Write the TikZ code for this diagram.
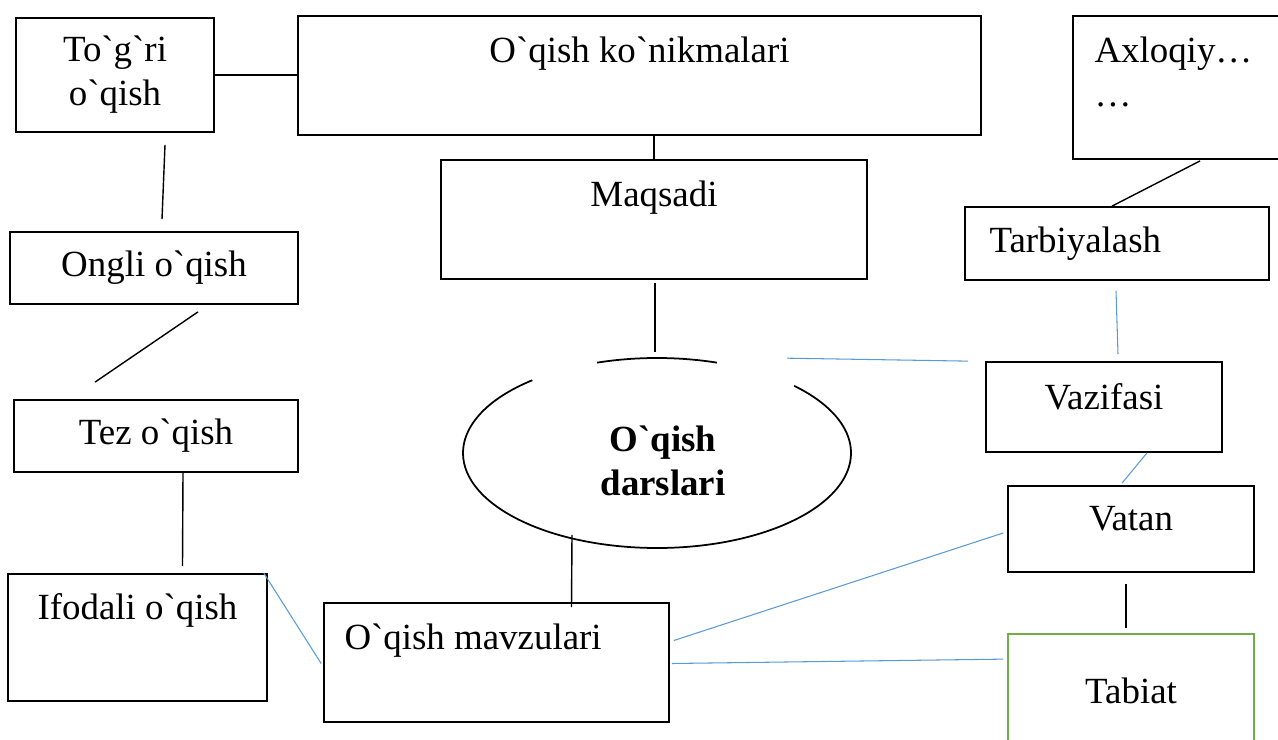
\documentclass[tikz,border=0pt]{standalone}
\usepackage{fontspec}
\setmainfont{Liberation Serif}[Ligatures=TeXOff]
\usepackage{tikz}
\usetikzlibrary{shapes.geometric, positioning}
\definecolor{wordblue}{RGB}{91, 155, 213}
\definecolor{wordgreen}{RGB}{112, 173, 71}

\begin{document}
\begin{tikzpicture}[
    x=0.02cm, y=-0.02cm,
    font=\fontsize{21}{25}\selectfont,
    box/.style={draw, rectangle, line width=1pt, inner sep=0pt, align=center},
    lbl/.style={inner sep=0pt},
    blk/.style={line width=0.8pt},
    blu/.style={draw=wordblue, line width=0.6pt}
]
    \useasboundingbox[fill=white] (0,0) rectangle (1278,740);

    % Boxes
    \node[box, minimum width=3.96cm, minimum height=2.28cm] (togri) at (115,75) {To`g`ri\\o`qish};
    \node[box, minimum width=13.66cm, minimum height=2.38cm,
          label={[lbl, anchor=north, yshift=-0.42cm]north:O`qish ko`nikmalari}] (konik) at (639.5,75.5) {};
    \node[box, minimum width=4.34cm, minimum height=2.86cm,
          label={[lbl, anchor=north west, xshift=0.44cm, yshift=-0.42cm, align=left]north west:Axloqiy…\\…}] (axloq) at (1181.5,87.5) {};
    \node[box, minimum width=8.52cm, minimum height=2.38cm,
          label={[lbl, anchor=north, yshift=-0.42cm]north:Maqsadi}] (maqsad) at (654,219.5) {};
    \node[box, minimum width=6.08cm, minimum height=1.46cm,
          label={[lbl, anchor=west, xshift=0.5cm]west:Tarbiyalash}] (tarb) at (1117,243.5) {};
    \node[box, minimum width=5.76cm, minimum height=1.44cm] (ongli) at (154,268) {Ongli o`qish};
    \node[box, minimum width=4.72cm, minimum height=1.8cm,
          label={[lbl, anchor=north, yshift=-0.44cm]north:Vazifasi}] (vazif) at (1104,407) {};
    \node[box, minimum width=5.68cm, minimum height=1.44cm] (tez) at (156,436) {Tez o`qish};
    \node[box, minimum width=4.92cm, minimum height=1.72cm,
          label={[lbl, anchor=north, yshift=-0.42cm]north:Vatan}] (vatan) at (1131,529) {};
    \node[box, minimum width=5.18cm, minimum height=2.54cm,
          label={[lbl, anchor=north, yshift=-0.4cm]north:Ifodali o`qish}] (ifod) at (137.5,637.5) {};
    \node[box, minimum width=6.9cm, minimum height=2.38cm,
          label={[lbl, anchor=north west, xshift=0.42cm, yshift=-0.42cm]north west:O`qish mavzulari}] (mavz) at (496.5,662.5) {};
    \node[box, draw=wordgreen, minimum width=4.92cm, minimum height=2.36cm,
          label={[lbl, anchor=north, yshift=-0.88cm]north:Tabiat}] (tabiat) at (1131,693) {};

    % Ellipse (drawn in pieces, with its gaps)
    \node[ellipse, inner sep=0pt, minimum width=7.76cm, minimum height=3.78cm,
          label={[lbl, align=center, font=\fontsize{21}{25}\selectfont\bfseries, shift={(6,8)}]center:O`qish\\darslari}] (dars) at (657,453) {};
    \draw[line width=1pt] ([shift={(-130:194 and 95)}]dars.center) arc[start angle=-130, end angle=-405, x radius=194, y radius=95];
    \draw[line width=1pt] ([shift={(-72:194 and 95)}]dars.center) arc[start angle=-72, end angle=-108, x radius=194, y radius=95];

    % Black lines
    \draw[blk] (togri.east) -- (togri.east -| konik.west);
    \draw[blk] (maqsad.north) -- (maqsad.north |- konik.south);
    \draw[blk] ([shift={(50,12)}]togri.south) -- ([shift={(8,-12)}]ongli.north);
    \draw[blk] ([shift={(44,7)}]ongli.south) -- ([shift={(-61,-17)}]tez.north);
    \draw[blk] ([shift={(27,0)}]tez.south) -- ([shift={(45,-7)}]ifod.north);
    \draw[blk] ([shift={(1,3)}]maqsad.south) -- ([shift={(-2,-6)}]dars.north);
    \draw[blk] ([shift={(-85,-13)}]dars.south) -- ([shift={(75,5)}]mavz.north);
    \draw[blk] ([shift={(128,1)}]axloq.south west) -- ([shift={(-5,0)}]tarb.north);
    \draw[blk] ([shift={(-5,11)}]vatan.south) -- ([shift={(-5,-5)}]tabiat.north);

    % Blue lines
    \draw[blu] ([shift={(130,0)}]dars.north) -- ([shift={(-17,0)}]vazif.north west);
    \draw[blu] ([shift={(-1,10)}]tarb.south) -- ([shift={(14,-7)}]vazif.north);
    \draw[blu] ([shift={(43,0)}]vazif.south) -- ([shift={(-9,-2)}]vatan.north);
    \draw[blu] ([shift={(-4,0)}]ifod.north east) -- ([shift={(-2,1)}]mavz.west);
    \draw[blu] ([shift={(4,-22)}]mavz.east) -- ([shift={(-4,4)}]vatan.west);
    \draw[blu] ([shift={(2,1)}]mavz.east) -- ([shift={(-4,26)}]tabiat.north west);

\end{tikzpicture}
\end{document}
